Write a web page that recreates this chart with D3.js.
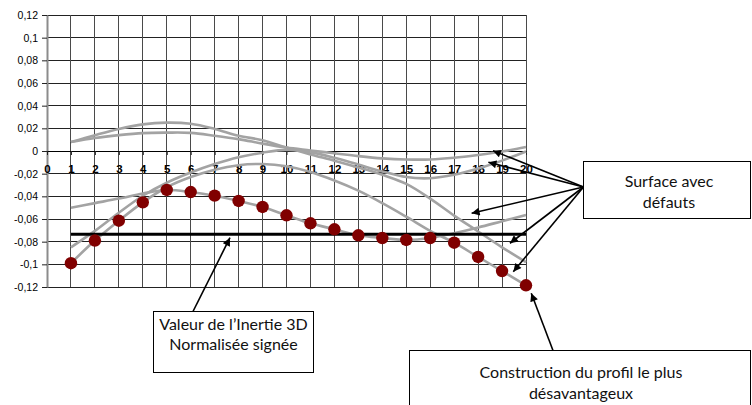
<!DOCTYPE html>
<html><head><meta charset="utf-8">
<script src="https://cdn.jsdelivr.net/npm/d3@7/dist/d3.min.js"></script>
<style>body{margin:0;background:#fff}svg{display:block}</style>
</head><body>
<svg id="chart" width="752" height="405"></svg>
<script>
// ---- data ----
const xCategories = [1,2,3,4,5,6,7,8,9,10,11,12,13,14,15,16,17,18,19,20];
const xTickValues = [0,1,2,3,4,5,6,7,8,9,10,11,12,13,14,15,16,17,18,19,20];
const xTickLabels = ["0","1","2","3","4","5","6","7","8","9","10","11","12","13","14","15","16","17","18","19","20"];
const yTickValues = [0.12,0.1,0.08,0.06,0.04,0.02,0,-0.02,-0.04,-0.06,-0.08,-0.1,-0.12];
const yTickLabels = ["0,12","0,1","0,08","0,06","0,04","0,02","0","-0,02","-0,04","-0,06","-0,08","-0,1","-0,12"];

const surfaceA = [0.008,0.014,0.0195,0.0235,0.025,0.024,0.0195,0.0135,0.0095,0.003,-0.003,-0.0085,-0.0145,-0.021,-0.029,-0.042,-0.057,-0.071,-0.085,-0.098];
const surfaceB = [0.008,0.0115,0.014,0.0158,0.0162,0.016,0.0135,0.0105,0.0065,0.003,0.0005,-0.002,-0.0045,-0.0065,-0.0075,-0.0075,-0.006,-0.0035,-0.0005,0.0035];
const surfaceC = [-0.085,-0.0705,-0.0545,-0.0395,-0.028,-0.019,-0.0115,-0.0055,-0.0015,0.001,-0.001,-0.006,-0.012,-0.018,-0.023,-0.024,-0.021,-0.0155,-0.0085,-0.0005];
const surfaceD = [-0.099,-0.079,-0.0615,-0.0453,-0.032,-0.023,-0.0165,-0.0125,-0.0115,-0.0135,-0.0185,-0.026,-0.035,-0.046,-0.058,-0.0705,-0.0809,-0.0935,-0.1059,-0.1185];
const surfaceE = [-0.050,-0.046,-0.042,-0.0375,-0.0344,-0.0362,-0.0394,-0.0441,-0.0494,-0.0567,-0.0638,-0.0691,-0.0744,-0.0768,-0.0785,-0.0768,-0.0725,-0.0675,-0.062,-0.0565];
const surfaces = [surfaceA, surfaceB, surfaceC, surfaceD, surfaceE];

const profile = [-0.099,-0.079,-0.0615,-0.0453,-0.0344,-0.0362,-0.0394,-0.0441,-0.0494,-0.0567,-0.0638,-0.0691,-0.0744,-0.0768,-0.0785,-0.0768,-0.0809,-0.0935,-0.1059,-0.1185];
const inertiaValue = -0.0735;

// ---- layout ----
const svg = d3.select("#chart");
const x = d3.scaleLinear().domain([0,20]).range([47,526]);
const y = d3.scaleLinear().domain([-0.12,0.12]).range([287,15]);

svg.append("defs").append("marker")
  .attr("id","arrow").attr("viewBox","0 0 10 10").attr("refX",10).attr("refY",5)
  .attr("markerWidth",10).attr("markerHeight",8).attr("markerUnits","userSpaceOnUse")
  .attr("orient","auto")
  .append("path").attr("d","M0,0 L10,5 L0,10 z").attr("fill","#000");

// grid
const grid = svg.append("g");
grid.selectAll("line.h").data(yTickValues).join("line")
  .attr("x1",x(0)).attr("x2",x(20)).attr("y1",d=>y(d)).attr("y2",d=>y(d))
  .attr("stroke","#222").attr("stroke-width",1).attr("shape-rendering","crispEdges");
grid.selectAll("line.v").data(xTickValues).join("line")
  .attr("x1",d=>x(d)).attr("x2",d=>x(d)).attr("y1",y(0.12)).attr("y2",y(-0.12))
  .attr("stroke","#4a4a4a").attr("stroke-width",1).attr("shape-rendering","crispEdges");

// y axis
const yAxis = svg.append("g").attr("transform",`translate(${x(0)},0)`)
  .call(d3.axisLeft(y).tickValues(yTickValues).tickFormat((d,i)=>yTickLabels[i]).tickSize(5).tickSizeOuter(0).tickPadding(4));
yAxis.select(".domain").attr("stroke","#8c8c8c").attr("stroke-width",2);
yAxis.selectAll(".tick line").attr("stroke","#222");
yAxis.selectAll("text").attr("font-family","Liberation Sans, Arial, sans-serif").attr("font-size",10.5).attr("fill","#000");

// x axis
const xAxis = svg.append("g").attr("transform",`translate(0,${y(0)})`)
  .call(d3.axisBottom(x).tickValues(xTickValues).tickFormat((d,i)=>xTickLabels[i]).tickSize(4).tickSizeOuter(0).tickPadding(10));
xAxis.select(".domain").attr("stroke","#000").attr("stroke-width",1);
xAxis.selectAll(".tick line").attr("stroke","#222");
xAxis.selectAll("text").attr("font-family","Liberation Sans, Arial, sans-serif").attr("font-size",11.5).attr("font-weight","bold").attr("fill","#000");

// surface curves
const line = d3.line().x((d,i)=>x(xCategories[i])).y(d=>y(d)).curve(d3.curveCatmullRom.alpha(0.5));
svg.append("g").selectAll("path").data(surfaces).join("path")
  .attr("d",line).attr("fill","none").attr("stroke","#a3a3a3").attr("stroke-width",2.6);

// inertia line
svg.append("line")
  .attr("x1",x(xCategories[0])).attr("x2",x(xCategories[xCategories.length-1]))
  .attr("y1",y(inertiaValue)).attr("y2",y(inertiaValue))
  .attr("stroke","#000").attr("stroke-width",3);

// profile dots
svg.append("g").selectAll("circle").data(profile).join("circle")
  .attr("cx",(d,i)=>x(xCategories[i])).attr("cy",d=>y(d)).attr("r",6.2)
  .attr("fill","#800000");

// annotations
const font = "Lato, 'Open Sans', sans-serif";
function box(x0,y0,w,h,lines,cx,baselines){
  const g = svg.append("g");
  g.append("rect").attr("x",x0).attr("y",y0).attr("width",w).attr("height",h)
    .attr("fill","#fff").attr("stroke","#000").attr("stroke-width",1);
  lines.forEach((t,i)=>g.append("text").attr("x",cx).attr("y",baselines[i])
    .attr("text-anchor","middle").attr("font-family",font).attr("font-size",16).attr("fill","#111").text(t));
}
function arrow(x1,y1,x2,y2){
  svg.append("line").attr("x1",x1).attr("y1",y1).attr("x2",x2).attr("y2",y2)
    .attr("stroke","#000").attr("stroke-width",1.6).attr("marker-end","url(#arrow)");
}
// Surface avec défauts
const surfaceTips = [[18.62,0.0003],[18.43,-0.010],[17.73,-0.055],[19.33,-0.0814],[19.47,-0.1065]];
surfaceTips.forEach(t=>arrow(583.5,187,x(t[0]),y(t[1])));
box(583.5,161.5,167,57,["Surface avec","défauts"],669,[187,208]);

// Valeur de l'Inertie 3D
arrow(193,311.5,x(7.64),y(-0.0765));
box(153.5,311.5,160,61,["Valeur de l\u2019Inertie 3D","Normalisée signée"],233.5,[330,350]);

// Construction du profil
arrow(553,350.5,x(20.22),y(-0.1255));
box(409.5,350.5,341,80,["Construction du profil le plus","désavantageux"],581,[378,399]);
</script>
</body></html>
